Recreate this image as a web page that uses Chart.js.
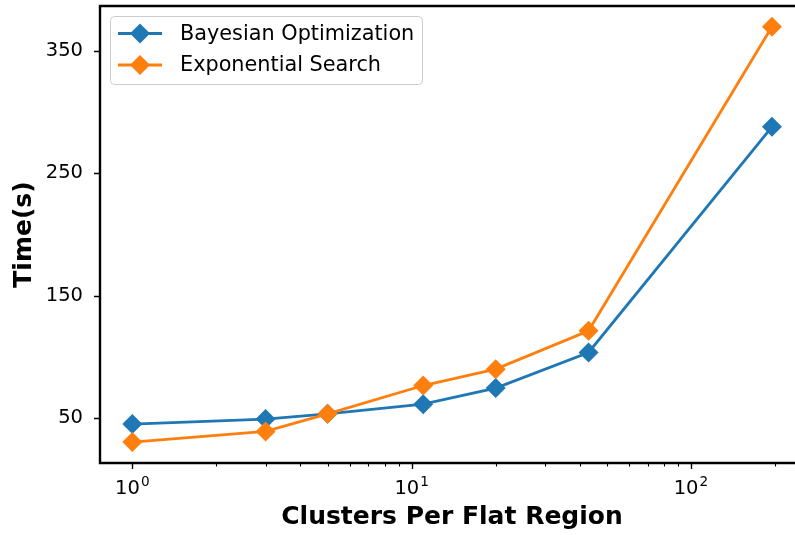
<!DOCTYPE html>
<html>
<head>
<meta charset="utf-8">
<script src="https://cdn.jsdelivr.net/npm/chart.js@4/dist/chart.umd.min.js"></script>
<style>
  html, body { margin: 0; padding: 0; background: #ffffff; overflow: hidden; }
  /* the plot frame runs a few pixels past the right edge of the figure */
  #wrap { width: 795px; height: 535px; overflow: hidden; }
  #chart { display: block; }
</style>
</head>
<body>
<div id="wrap"><canvas id="chart" width="804" height="535"></canvas></div>
<script>
// Clusters per flat region (x) and tuning time in seconds for each search strategy
const clusters = [1, 3, 5, 11, 20, 43, 195];
const bayesTimes = [45.1, 49.2, 53.5, 61.4, 74.5, 103.6, 288.0];
const expTimes = [30.4, 39.1, 53.5, 76.6, 90.0, 121.3, 369.7];
const seriesNames = ['Bayesian Optimization', 'Exponential Search'];
const yTickValues = [50, 150, 250, 350];
const xMajorTicks = [1, 10, 100];
const xMinorTicks = [2, 3, 4, 5, 6, 7, 8, 9, 20, 30, 40, 50, 60, 70, 80, 90, 200];

const BLUE = '#1f77b4';
const ORANGE = '#ff7f0e';
const FONT = "'DejaVu Sans', sans-serif";
const TICK_SIZE = 19.5;
const LEGEND_SIZE = 20.8;

const toPoints = (ys) => clusters.map((x, i) => ({ x: x, y: ys[i] }));

// Spines, tick marks, power-of-ten labels and an in-axes legend
const framePlugin = {
  id: 'frame',
  afterDraw(chart) {
    const ctx = chart.ctx;
    const a = chart.chartArea;
    const xs = chart.scales.x;
    const ys = chart.scales.y;
    ctx.save();
    ctx.strokeStyle = '#000';
    ctx.lineCap = 'butt';

    // tick marks
    ctx.lineWidth = 1.4;
    ctx.beginPath();
    xMajorTicks.forEach(v => {
      const px = Math.round(xs.getPixelForValue(v)) + 0.5;
      ctx.moveTo(px, a.bottom); ctx.lineTo(px, a.bottom + 6);
    });
    yTickValues.forEach(v => {
      const py = Math.round(ys.getPixelForValue(v)) + 0.5;
      ctx.moveTo(a.left, py); ctx.lineTo(a.left - 6, py);
    });
    ctx.stroke();
    ctx.lineWidth = 1.1;
    ctx.beginPath();
    xMinorTicks.forEach(v => {
      const px = Math.round(xs.getPixelForValue(v)) + 0.5;
      ctx.moveTo(px, a.bottom); ctx.lineTo(px, a.bottom + 3.5);
    });
    ctx.stroke();

    // spines
    ctx.lineWidth = 2.4;
    ctx.beginPath();
    ctx.moveTo(a.left, a.top); ctx.lineTo(a.right, a.top);
    ctx.moveTo(a.right, a.top); ctx.lineTo(a.right, a.bottom);
    ctx.moveTo(a.left, a.top - 1.2); ctx.lineTo(a.left, a.bottom + 1.2);
    ctx.moveTo(a.left - 1.2, a.bottom); ctx.lineTo(a.right, a.bottom);
    ctx.stroke();

    // x tick labels as 10 with a raised exponent
    ctx.fillStyle = '#000';
    ctx.textBaseline = 'alphabetic';
    ctx.textAlign = 'left';
    xMajorTicks.forEach(v => {
      const base = '10';
      const exp = String(Math.round(Math.log10(v)));
      ctx.font = TICK_SIZE + 'px ' + FONT;
      const wb = ctx.measureText(base).width;
      ctx.font = (TICK_SIZE * 0.7) + 'px ' + FONT;
      const we = ctx.measureText(exp).width;
      const px = xs.getPixelForValue(v);
      const x0 = px - (wb + we + 1) / 2;
      ctx.font = TICK_SIZE + 'px ' + FONT;
      ctx.fillText(base, x0, a.bottom + 31);
      ctx.font = (TICK_SIZE * 0.7) + 'px ' + FONT;
      ctx.fillText(exp, x0 + wb + 1, a.bottom + 23);
    });

    // legend
    const bx = a.left + 10.5, by = a.top + 10.5, bw = 312, bh = 68, r = 4;
    ctx.beginPath();
    ctx.moveTo(bx + r, by);
    ctx.lineTo(bx + bw - r, by); ctx.quadraticCurveTo(bx + bw, by, bx + bw, by + r);
    ctx.lineTo(bx + bw, by + bh - r); ctx.quadraticCurveTo(bx + bw, by + bh, bx + bw - r, by + bh);
    ctx.lineTo(bx + r, by + bh); ctx.quadraticCurveTo(bx, by + bh, bx, by + bh - r);
    ctx.lineTo(bx, by + r); ctx.quadraticCurveTo(bx, by, bx + r, by);
    ctx.closePath();
    ctx.fillStyle = 'rgba(255,255,255,0.8)';
    ctx.fill();
    ctx.strokeStyle = '#cccccc';
    ctx.lineWidth = 1;
    ctx.stroke();

    const rows = [
      { name: seriesNames[0], color: BLUE, y: by + 17 },
      { name: seriesNames[1], color: ORANGE, y: by + 48.5 }
    ];
    rows.forEach(row => {
      const lx = bx + 7.5;
      ctx.strokeStyle = row.color;
      ctx.lineWidth = 2.8;
      ctx.beginPath();
      ctx.moveTo(lx, row.y); ctx.lineTo(lx + 44, row.y);
      ctx.stroke();
      const cx = lx + 22, rr = 10;
      ctx.fillStyle = row.color;
      ctx.beginPath();
      ctx.moveTo(cx - rr, row.y); ctx.lineTo(cx, row.y - rr);
      ctx.lineTo(cx + rr, row.y); ctx.lineTo(cx, row.y + rr);
      ctx.closePath();
      ctx.fill();
      ctx.fillStyle = '#000';
      ctx.font = LEGEND_SIZE + 'px ' + FONT;
      ctx.textAlign = 'left';
      ctx.textBaseline = 'middle';
      ctx.fillText(row.name, bx + 69.5, row.y + 1);
    });
    ctx.restore();
  }
};

const noEdgePadding = (scale) => {
  scale.paddingTop = 0; scale.paddingBottom = 0;
  scale.paddingLeft = 0; scale.paddingRight = 0;
};

new Chart(document.getElementById('chart'), {
  type: 'line',
  data: {
    datasets: [
      {
        label: seriesNames[0],
        data: toPoints(bayesTimes),
        borderColor: BLUE,
        backgroundColor: BLUE,
        borderWidth: 2.8,
        pointStyle: 'rectRot',
        pointRadius: 10,
        pointBorderWidth: 0,
        tension: 0,
        order: 1
      },
      {
        label: seriesNames[1],
        data: toPoints(expTimes),
        borderColor: ORANGE,
        backgroundColor: ORANGE,
        borderWidth: 2.8,
        pointStyle: 'rectRot',
        pointRadius: 10,
        pointBorderWidth: 0,
        tension: 0,
        order: 0
      }
    ]
  },
  options: {
    responsive: false,
    animation: false,
    devicePixelRatio: 1,
    layout: { autoPadding: false, padding: { left: 0, top: 6, right: 0, bottom: 0 } },
    plugins: {
      legend: { display: false },
      tooltip: { enabled: false }
    },
    scales: {
      x: {
        type: 'logarithmic',
        min: 0.766,
        max: 254,
        grid: { display: false, drawTicks: false },
        border: { display: false },
        afterBuildTicks: (scale) => { scale.ticks = xMajorTicks.map(v => ({ value: v })); },
        afterFit: (scale) => { scale.height = 72; noEdgePadding(scale); },
        ticks: {
          autoSkip: false,
          maxRotation: 0,
          padding: 13,
          font: { family: FONT, size: TICK_SIZE },
          callback: () => ''
        },
        title: {
          display: true,
          text: 'Clusters Per Flat Region',
          color: '#000',
          font: { family: FONT, size: 25, weight: 'bold', lineHeight: 1.2 },
          padding: { top: 0, bottom: 3 }
        }
      },
      y: {
        type: 'linear',
        min: 13.3,
        max: 386.7,
        grid: { display: false, drawTicks: false },
        border: { display: false },
        afterBuildTicks: (scale) => { scale.ticks = yTickValues.map(v => ({ value: v })); },
        afterFit: (scale) => { scale.width = 100; noEdgePadding(scale); },
        ticks: {
          padding: 17,
          color: '#000',
          font: { family: FONT, size: TICK_SIZE }
        },
        title: {
          display: true,
          text: 'Time(s)',
          color: '#000',
          font: { family: FONT, size: 25, weight: 'bold', lineHeight: 1.2 },
          padding: { top: 9, bottom: 0 }
        }
      }
    }
  },
  plugins: [framePlugin]
});
</script>
</body>
</html>
